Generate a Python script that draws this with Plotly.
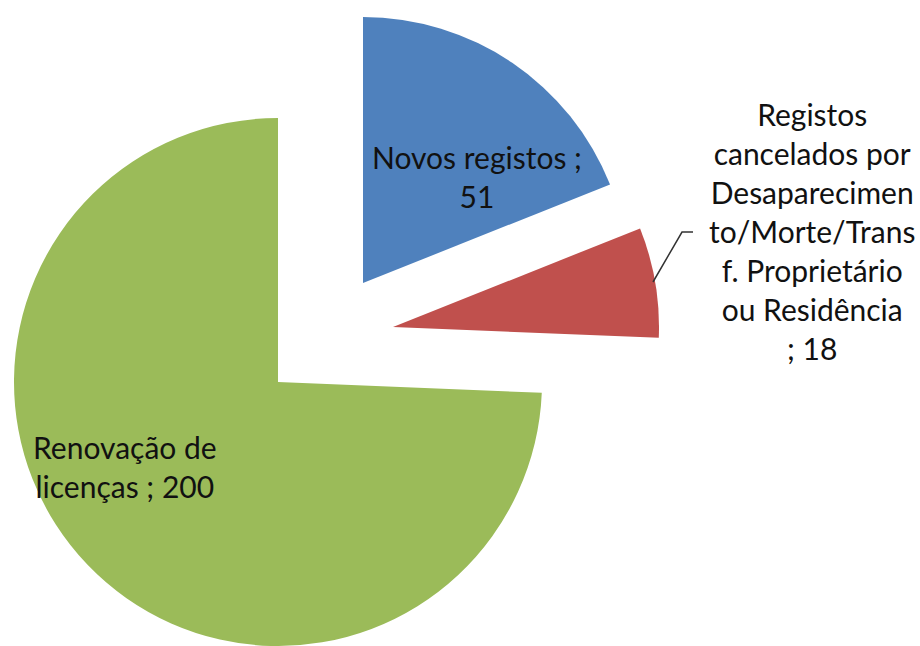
import plotly.graph_objects as go

W, H = 920, 646

# ---- data ----
categories = [
    "Novos registos",
    "Registos cancelados por Desaparecimento/Morte/Transf. Proprietário ou Residência",
    "Renovação de licenças",
]
values = [51, 18, 200]
colors = ["#4F81BD", "#C0504D", "#9BBB59"]

# data-label lines as wrapped in the original ({v} = value)
label_lines = [
    ["Novos registos ;", "{v}"],
    ["Registos", "cancelados por", "Desaparecimen", "to/Morte/Trans",
     "f. Proprietário", "ou Residência", "; {v}"],
    ["Renovação de", "licenças ; {v}"],
]

# ---- layout geometry (pixels): exploded slice centre and radius ----
slice_geom = [(363, 283, 266), (393, 327, 266), (278, 382, 264)]
label_pos = [(477, 176), (812, 231), (125, 466)]
FONT = dict(family="Lato, 'Open Sans', sans-serif", size=30, color="#111111")


def clamp(v):
    return min(1.0, max(0.0, v))


def domain(cx, cy, r):
    return dict(x=[clamp((cx - r) / W), clamp((cx + r) / W)],
                y=[clamp(1 - (cy + r) / H), clamp(1 - (cy - r) / H)])


fig = go.Figure()
for i, (cx, cy, r) in enumerate(slice_geom):
    cols = [colors[j] if j == i else "rgba(0,0,0,0)" for j in range(len(values))]
    fig.add_trace(go.Pie(
        labels=categories, values=values, sort=False, direction="clockwise",
        rotation=0, marker=dict(colors=cols, line=dict(width=0)),
        textinfo="none", hoverinfo="label+value", domain=domain(cx, cy, r),
        showlegend=False,
    ))

annotations = []
for i, (x, y) in enumerate(label_pos):
    text = "<br>".join(s.format(v=values[i]) for s in label_lines[i])
    annotations.append(dict(
        x=x / W, y=1 - y / H, xref="paper", yref="paper", text=text,
        showarrow=False, xanchor="center", yanchor="middle", align="center",
        font=FONT,
    ))

# leader line for the small slice label
leader = [(653, 282), (682, 232), (693, 232)]
path = "M " + " L ".join(f"{px / W},{1 - py / H}" for px, py in leader)

fig.update_layout(
    width=W, height=H, margin=dict(l=0, r=0, t=0, b=0),
    paper_bgcolor="white", plot_bgcolor="white", showlegend=False,
    annotations=annotations,
    shapes=[dict(type="path", path=path, xref="paper", yref="paper",
                 line=dict(color="#333333", width=1.5))],
)

fig.write_html("out.html")
